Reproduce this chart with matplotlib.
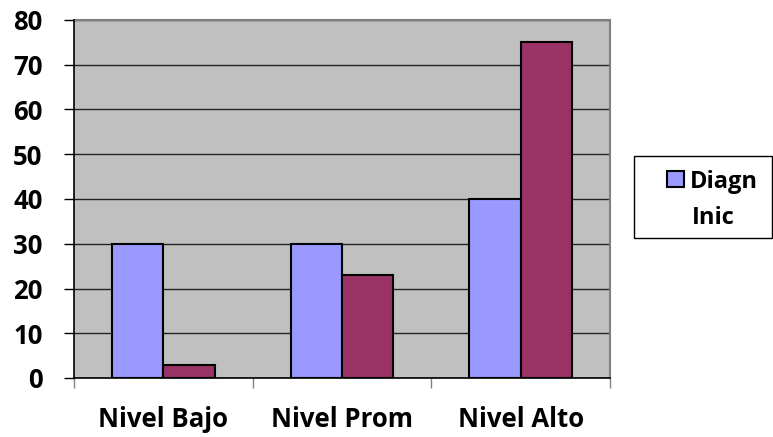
import numpy as np
import matplotlib.pyplot as plt
from matplotlib.patches import Rectangle

categorias = ["Nivel Bajo", "Nivel Prom", "Nivel Alto"]
diagn_inic = [30, 30, 40]
diagn_final = [3, 23, 75]
etiqueta = ["Diagn", "Inic"]

azul = "#9999FF"
granate = "#993366"

plt.rcParams['font.family'] = 'Open Sans'
plt.rcParams['font.weight'] = 'bold'

fig = plt.figure(figsize=(7.73, 4.37), dpi=100)
ax = fig.add_axes([74 / 773, 1 - 378 / 437, 536 / 773, 358 / 437])
ax.set_facecolor("#C0C0C0")

x = np.arange(len(categorias))
w = 0.288
b1 = ax.bar(x - w / 2, diagn_inic, w, color=azul, edgecolor="black", linewidth=1.5, zorder=3)
b2 = ax.bar(x + w / 2, diagn_final, w, color=granate, edgecolor="black", linewidth=1.5, zorder=3)

ax.set_xlim(-0.5, 2.5)
ax.set_ylim(0, 80)
ax.set_yticks(range(0, 81, 10))
ax.set_yticklabels([str(v) for v in range(0, 81, 10)], fontweight="bold", fontsize=18.5)
ax.yaxis.grid(True, color="#222222", linewidth=1.0, zorder=1)
ax.tick_params(axis="y", direction="out", length=7.2, width=1, pad=15.5)

ax.set_xticks(x)
ax.set_xticklabels(categorias, fontweight="bold", fontsize=18.5)
ax.set_xticks([-0.5, 0.5, 1.5, 2.5], minor=True)
ax.tick_params(axis="x", which="major", length=0, pad=20)
ax.tick_params(axis="x", which="minor", direction="out", length=7.2, width=1, color="#808080")

for s in ["top", "right"]:
    ax.spines[s].set_color("#808080")
    ax.spines[s].set_linewidth(1.5)
for s in ["left", "bottom"]:
    ax.spines[s].set_color("black")
    ax.spines[s].set_linewidth(1.2)
ax.spines["left"].set_zorder(4)
ax.spines["bottom"].set_zorder(4)

# leyenda dibujada a mano (solo la primera serie)
def px(xp, yp):
    return xp / 773, 1 - yp / 437

fig.patches.append(Rectangle(px(634, 238), 138 / 773, 82 / 437, transform=fig.transFigure,
                             facecolor="white", edgecolor="black", linewidth=1))
fig.patches.append(Rectangle(px(667, 187), 17 / 773, 16 / 437, transform=fig.transFigure,
                             facecolor=b1.patches[0].get_facecolor(), edgecolor="black", linewidth=1.5))
fig.text(*px(690, 188), etiqueta[0], ha="left", va="baseline", fontsize=17, fontweight="bold")
fig.text(*px(713, 224), etiqueta[1], ha="center", va="baseline", fontsize=17, fontweight="bold")

fig.savefig("out.png", dpi=100)
